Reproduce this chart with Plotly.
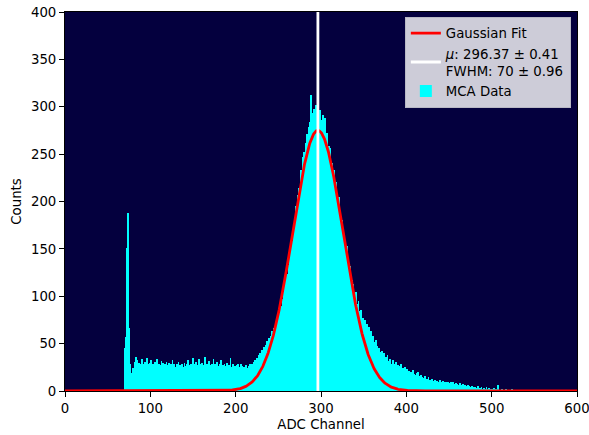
import numpy as np
import plotly.graph_objects as go

# MCA spectrum: counts per ADC channel, starting at channel 70 (channels below are empty)
first_channel = 70
counts = [
    45, 57, 55, 151, 188, 66, 28, 14, 12, 19,          # 70-79
    24, 22, 31, 36, 27, 33, 25, 30, 21, 28,            # 80-89
    34, 26, 29, 23, 31, 27, 35, 24, 28, 30,            # 90-99
    26, 33, 22, 29, 27, 31, 24, 28, 34, 25,            # 100-109
    29, 23, 27, 32, 26, 30, 22, 28, 25, 31,            # 110-119
    27, 24, 30, 21, 28, 26, 33, 23, 29, 25,            # 120-129
    22, 28, 26, 31, 24, 27, 20, 29, 25, 23,            # 130-139
    30, 26, 22, 28, 33, 24, 27, 21, 29, 25,            # 140-149
    35, 23, 28, 26, 31, 22, 27, 34, 24, 29,            # 150-159
    25, 30, 22, 27, 36, 24, 28, 21, 26, 32,            # 160-169
    23, 27, 29, 22, 34, 25, 28, 24, 31, 26,            # 170-179
    22, 28, 25, 33, 24, 27, 21, 29, 26, 23,            # 180-189
    30, 24, 27, 22, 35, 25, 23, 28, 21, 26,            # 190-199
    24, 27, 22, 29, 25, 21, 28, 23, 26, 20,            # 200-209
    25, 22, 27, 21, 24, 26, 23, 28, 25, 29,            # 210-219
    27, 31, 26, 33, 29, 35, 31, 38, 34, 40,            # 220-229
    37, 43, 39, 46, 42, 49, 45, 53, 48, 56,            # 230-239
    52, 58, 55, 63, 59, 66, 62, 71, 68, 76,            # 240-249
    73, 82, 79, 90, 86, 97, 104, 100, 112, 118,        # 250-259
    124, 119, 133, 141, 137, 152, 158, 149, 171, 176,  # 260-269
    183, 195, 188, 207, 214, 202, 226, 233, 221, 247,  # 270-279
    252, 241, 262, 258, 271, 266, 279, 284, 312, 276,  # 280-289
    293, 281, 298, 287, 302, 278, 295, 289, 283, 297,  # 290-299
    286, 274, 291, 279, 268, 288, 263, 272, 245, 259,  # 300-309
    248, 256, 236, 241, 229, 233, 218, 212, 221, 203,  # 310-319
    197, 205, 189, 183, 176, 181, 168, 162, 157, 149,  # 320-329
    153, 141, 137, 128, 132, 122, 117, 109, 113, 103,  # 330-339
    98, 104, 92, 88, 95, 84, 79, 86, 74, 77,           # 340-349
    72, 69, 75, 66, 71, 64, 68, 61, 59, 63,            # 350-359
    55, 58, 52, 49, 54, 46, 48, 43, 45, 41,            # 360-369
    39, 42, 37, 35, 40, 33, 36, 31, 38, 32,            # 370-379
    30, 34, 29, 27, 33, 26, 29, 25, 31, 24,            # 380-389
    27, 23, 26, 22, 28, 21, 24, 20, 25, 22,            # 390-399
    19, 23, 18, 21, 17, 20, 19, 16, 22, 18,            # 400-409
    17, 15, 19, 14, 20, 16, 13, 17, 12, 15,            # 410-419
    14, 11, 16, 12, 13, 10, 15, 11, 12, 9,             # 420-429
    13, 10, 11, 9, 12, 8, 11, 10, 9, 12,               # 430-439
    8, 10, 9, 11, 7, 9, 8, 10, 6, 9,                   # 440-449
    8, 7, 10, 6, 8, 9, 7, 6, 8, 5,                     # 450-459
    7, 6, 5, 8, 4, 6, 7, 5, 4, 6,                      # 460-469
    5, 4, 6, 3, 5, 4, 3, 5, 2, 4,                      # 470-479
    3, 4, 2, 3, 5, 2, 3, 1, 4, 2,                      # 480-489
    2, 3, 1, 2, 4, 1, 2, 3, 1, 2,                      # 490-499
    1, 2, 1, 3, 0, 2, 1, 6, 1, 0,                      # 500-509
    1, 0, 2, 1, 0, 1, 0, 2, 0, 1,                      # 510-519
    0, 1, 0, 0, 2, 0, 1, 0, 0, 1,                      # 520-529
    0, 0, 1, 0, 0, 1,                                  # 530-535
]
channels = list(range(first_channel, first_channel + len(counts)))

# Gaussian fit results
fit_mu = 296.37
fit_mu_err = 0.41
fit_fwhm = 70
fit_fwhm_err = 0.96
fit_amplitude = 275

x_ticks = [0, 100, 200, 300, 400, 500, 600]
y_ticks = [0, 50, 100, 150, 200, 250, 300, 350, 400]

sigma = fit_fwhm / (2 * np.sqrt(2 * np.log(2)))
x_fit = np.linspace(0, 600, 1201)
y_fit = fit_amplitude * np.exp(-((x_fit - fit_mu) ** 2) / (2 * sigma ** 2))

font = dict(family="DejaVu Sans", size=13.3, color="black")

fig = go.Figure()
fig.add_trace(go.Bar(
    x=channels, y=counts, width=1.0,
    marker=dict(color="#00ffff", line=dict(width=0)),
    name="MCA Data", legendrank=3,
))
fig.add_trace(go.Scatter(
    x=x_fit, y=y_fit, mode="lines",
    line=dict(color="#ff0000", width=2.8),
    name="Gaussian Fit", legendrank=1,
))
fig.add_trace(go.Scatter(
    x=[fit_mu, fit_mu], y=[0, 400], mode="lines",
    line=dict(color="white", width=2.8),
    name=f"<i>μ</i>: {fit_mu} ± {fit_mu_err}<br>FWHM: {fit_fwhm} ± {fit_fwhm_err}",
    legendrank=2,
))

fig.update_layout(
    width=589, height=435,
    margin=dict(l=65, r=12, t=12, b=44, autoexpand=False),
    paper_bgcolor="white",
    plot_bgcolor="#04003e",
    bargap=0,
    font=font,
    showlegend=True,
    legend=dict(
        x=0.988, y=0.987, xanchor="right", yanchor="top",
        bgcolor="#cdccd8", bordercolor="#b8b8c4", borderwidth=1,
        font=font, traceorder="normal",
        itemwidth=30,
    ),
)
fig.update_xaxes(
    range=[0, 600], tickvals=x_ticks, ticks="outside", ticklen=5,
    tickcolor="black", showline=True, linecolor="black", linewidth=1,
    mirror=True, showgrid=False, zeroline=False, automargin=False,
    ticklabeloverflow="allow",
    title=dict(text="ADC Channel", font=font, standoff=4),
)
fig.update_yaxes(
    range=[0, 400], tickvals=y_ticks, ticks="outside", ticklen=5,
    tickcolor="black", showline=True, linecolor="black", linewidth=1,
    mirror=True, showgrid=False, zeroline=False, automargin=False,
    ticklabeloverflow="allow",
    title=dict(text="Counts", font=font, standoff=6),
)

fig.write_html("out.html")
